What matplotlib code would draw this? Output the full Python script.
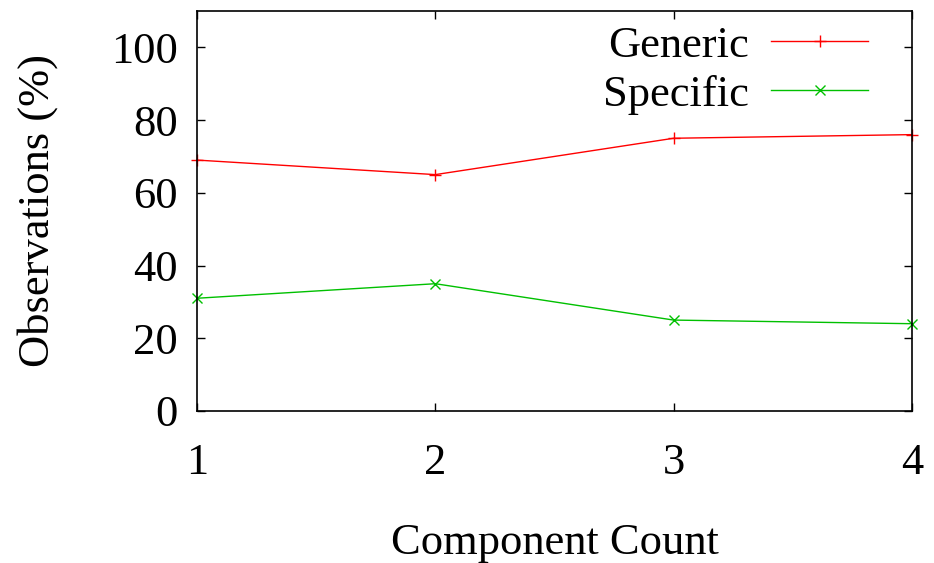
import matplotlib
matplotlib.use("Agg")
import matplotlib.pyplot as plt

# data
component_count = [1, 2, 3, 4]
generic = [69, 65, 75, 76]
specific = [31, 35, 25, 24]

plt.rcParams["font.family"] = ["Liberation Serif", "DejaVu Serif"]
plt.rcParams["font.size"] = 32

fig = plt.figure(figsize=(9.34, 5.63), dpi=100)
ax = fig.add_axes([0.2109, 0.270, 0.7655, 0.7105])

ax.plot(component_count, generic, color="#FF0000", lw=1.0, marker="+",
        markersize=9, markeredgewidth=1.0, label="Generic", clip_on=False)
ax.plot(component_count, specific, color="#00C000", lw=1.0, marker="x",
        markersize=7, markeredgewidth=1.0, label="Specific", clip_on=False)

ax.set_xlim(1, 4)
ax.set_ylim(0, 110)
ax.set_xticks(component_count)
ax.set_yticks([0, 20, 40, 60, 80, 100])

ax.tick_params(axis="both", direction="in", length=6, width=1, top=True, right=True)
ax.tick_params(axis="x", pad=23)
ax.tick_params(axis="y", pad=14)
for s in ax.spines.values():
    s.set_linewidth(1.2)

ax.set_xlabel("Component Count", labelpad=29)
ax.set_ylabel("Observations (%)", labelpad=38)

ax.legend(loc="upper right", bbox_to_anchor=(0.964, 1.008), frameon=False,
          markerfirst=False, handlelength=2.2, handletextpad=0.5,
          labelspacing=0.2, borderaxespad=0)

fig.savefig("out.png", dpi=100)
